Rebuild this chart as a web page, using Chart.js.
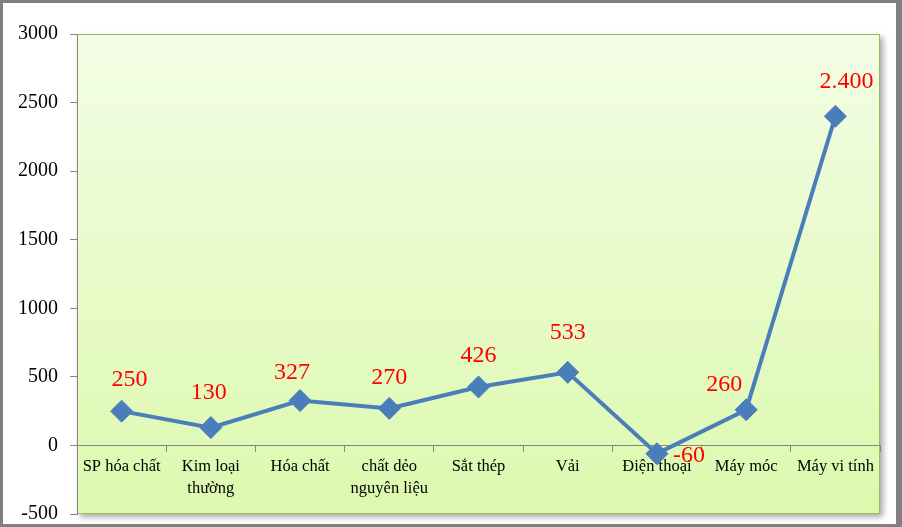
<!DOCTYPE html>
<html>
<head>
<meta charset="utf-8">
<script src="https://cdn.jsdelivr.net/npm/chart.js@4.4.0/dist/chart.umd.min.js"></script>
<style>
  html, body { margin: 0; padding: 0; background: #fff; }
</style>
</head>
<body>
<canvas id="chart" width="902" height="527"></canvas>
<script>
const categories = ['SP hóa chất', ['Kim loại', 'thường'], 'Hóa chất', ['chất dẻo', 'nguyên liệu'], 'Sắt thép', 'Vải', 'Điện thoại', 'Máy móc', 'Máy vi tính'];
const values = [250, 130, 327, 270, 426, 533, -60, 260, 2400];
const yMin = -500;
const yMax = 3000;
const yStep = 500;

const lineColor = '#4A7EBB';
const serif = "'Liberation Serif', 'Times New Roman', serif";

// vi-VN style thousands separator: 2400 -> 2.400
function fmt(v) {
    return String(v).replace(/\B(?=(\d{3})+(?!\d))/g, '.');
}

// frame, plot area gradient + shadow
const backgroundPlugin = {
    id: 'background',
    beforeDraw(chart) {
        const ctx = chart.ctx;
        const a = chart.chartArea;
        ctx.save();
        ctx.fillStyle = '#808080';
        ctx.fillRect(0, 0, chart.width, chart.height);
        ctx.fillStyle = '#ffffff';
        ctx.fillRect(3, 3, chart.width - 9, chart.height - 6);

        const g = ctx.createLinearGradient(0, a.top, 0, a.bottom);
        g.addColorStop(0, '#F3FDE5');
        g.addColorStop(1, '#DCF9AE');
        ctx.shadowColor = 'rgba(0,0,0,0.35)';
        ctx.shadowBlur = 6;
        ctx.shadowOffsetX = 3;
        ctx.shadowOffsetY = 3;
        ctx.fillStyle = g;
        ctx.fillRect(a.left, a.top, a.right - a.left, a.bottom - a.top);
        ctx.shadowColor = 'transparent';
        ctx.strokeStyle = '#9BBB59';
        ctx.lineWidth = 1;
        ctx.strokeRect(a.left + 0.5, a.top + 0.5, a.right - a.left - 1, a.bottom - a.top - 1);
        ctx.restore();
    }
};

// red value labels above the points
const valueLabels = {
    id: 'valueLabels',
    afterDatasetsDraw(chart, args, opts) {
        const ctx = chart.ctx;
        const meta = chart.getDatasetMeta(0);
        ctx.save();
        ctx.font = '24px ' + serif;
        ctx.fillStyle = '#FF0000';
        ctx.textAlign = 'center';
        ctx.textBaseline = 'middle';
        meta.data.forEach((pt, i) => {
            const shift = opts.shift[i] || [0, -31];
            ctx.fillText(fmt(values[i]), pt.x + shift[0], pt.y + shift[1]);
        });
        ctx.restore();
    }
};

new Chart(document.getElementById('chart').getContext('2d'), {
    type: 'line',
    data: {
        labels: categories,
        datasets: [{
            data: values,
            borderColor: lineColor,
            backgroundColor: lineColor,
            borderWidth: 4,
            tension: 0,
            pointStyle: 'rectRot',
            pointRadius: 11,
            pointBorderWidth: 1,
            pointBackgroundColor: lineColor,
            pointBorderColor: lineColor
        }]
    },
    options: {
        responsive: false,
        animation: false,
        layout: { padding: { left: 0, top: 34, right: 22, bottom: 13 } },
        plugins: {
            legend: { display: false },
            tooltip: { enabled: false },
            valueLabels: {
                shift: { 0: [8, -31], 1: [-2, -35], 2: [-8, -28], 5: [0, -40], 6: [32, 2], 7: [-22, -25], 8: [11, -35] }
            }
        },
        scales: {
            x: {
                position: { y: 0 },
                offset: true,
                grid: { offset: true, drawOnChartArea: false, tickLength: 6, color: '#868686' },
                border: { color: '#868686' },
                ticks: { color: '#000', font: { family: serif, size: 16.5, lineHeight: 1.3 }, padding: 5, maxRotation: 0, autoSkip: false },
                afterFit: s => { s.height = 0; }
            },
            y: {
                min: yMin,
                max: yMax,
                grid: { drawOnChartArea: false, tickLength: 7, color: '#868686' },
                border: { color: '#868686' },
                ticks: { stepSize: yStep, color: '#000', font: { family: serif, size: 20 }, padding: 12,
                    callback: v => String(v) },
                afterFit: s => { s.width = 77; s.paddingTop = 0; s.paddingBottom = 0; }
            }
        }
    },
    plugins: [backgroundPlugin, valueLabels]
});
</script>
</body>
</html>
